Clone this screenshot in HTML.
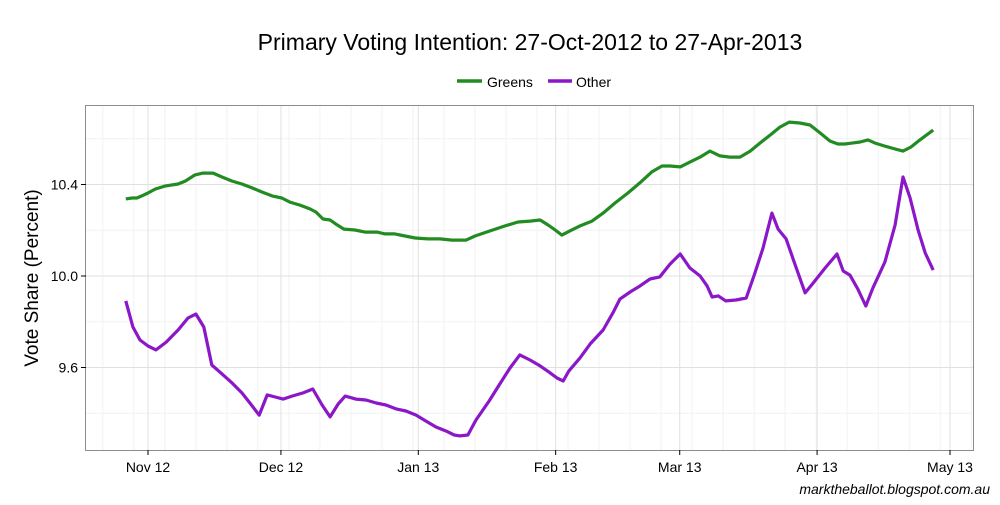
<!DOCTYPE html>
<html><head><meta charset="utf-8"><style>
body{margin:0;background:#fff;}
svg text{font-family:"Liberation Sans",Arial,sans-serif;}
</style></head><body>
<svg id="chart" width="1000" height="500" xmlns="http://www.w3.org/2000/svg">
<rect width="1000" height="500" fill="#fff"/>
<text x="530" y="50" font-size="23" text-anchor="middle" fill="#000">Primary Voting Intention: 27-Oct-2012 to 27-Apr-2013</text>
<g>
<g><line x1="457" y1="81" x2="482" y2="81" stroke="#228b22" stroke-width="3.5"/><text x="487" y="87" font-size="14">Greens</text></g>
<g><line x1="548" y1="81" x2="572" y2="81" stroke="#8a17c8" stroke-width="3.5"/><text x="576" y="87" font-size="14">Other</text></g>
</g>
<g id="grid"></g>
<g id="series"></g>
<rect x="85.5" y="105.5" width="888" height="345" fill="none" stroke="#8c8c8c" stroke-width="1"/>
<g id="axes"></g>
<text transform="translate(38,278) rotate(-90)" font-size="19" text-anchor="middle">Vote Share (Percent)</text>
<text x="990" y="494" font-size="14" font-style="italic" text-anchor="end">marktheballot.blogspot.com.au</text>
</svg>
<script>
// days offset from 1-Nov-2012
const greensDays=[-5,-3.6,-2.5,-1.4,0,1.6,3.8,6.8,8.4,10.6,12.4,14.7,16.7,19.0,21.2,23.5,25.7,28.0,30.2,32.0,34.3,36.6,37.9,39.5,41.1,42.4,44.2,46.7,49.0,51.7,53.5,55.7,58.0,60.3,63.2,65.9,68.6,71.8,73.8,77.2,80.6,83.5,86.2,88.5,90.3,91.9,93.4,95.2,97.5,100.2,102.7,105.4,108.3,111.0,113.7,116.0,117.8,120.1,122.3,124.6,126.8,129.1,131.3,133.6,135.9,138.1,140.4,142.6,144.7,147.1,149.4,151.7,153.9,155.7,157.3,158.9,160.7,162.5,164.1,166.3,168.6,170.4,172.2,174.2,177.2];
const greensValues=[10.337,10.341,10.341,10.350,10.363,10.380,10.393,10.402,10.415,10.442,10.450,10.450,10.433,10.415,10.402,10.385,10.367,10.350,10.341,10.323,10.310,10.293,10.280,10.249,10.245,10.227,10.205,10.201,10.192,10.192,10.184,10.184,10.175,10.166,10.162,10.162,10.157,10.157,10.175,10.197,10.219,10.236,10.240,10.245,10.223,10.201,10.179,10.197,10.219,10.240,10.275,10.319,10.363,10.407,10.455,10.481,10.481,10.477,10.498,10.520,10.546,10.525,10.520,10.520,10.546,10.581,10.616,10.651,10.673,10.669,10.660,10.625,10.590,10.577,10.577,10.581,10.586,10.595,10.581,10.568,10.555,10.546,10.564,10.595,10.638];
const otherDays=[-5.0,-3.4,-1.8,0,1.8,4.1,6.8,9.0,10.8,12.6,14.4,16.7,19.0,21.2,23.0,25.1,26.9,28.7,30.5,32.5,35.0,37.2,39.3,41.1,42.9,44.5,46.9,49.2,51.5,53.7,56.0,58.2,60.5,62.7,65.0,67.3,69.1,70.4,72.2,74.0,77.0,79.4,81.7,83.9,86.2,88.5,90.5,92.3,93.7,95.0,97.5,99.8,102.7,104.9,106.5,108.8,111.0,113.3,115.5,117.8,120.1,122.3,124.6,126.2,127.3,128.7,130.4,132.7,135.0,136.8,138.8,140.8,142.2,144.0,146.0,148.3,150.1,152.8,155.5,156.9,158.4,160.2,162.0,163.6,166.3,168.6,170.4,172.0,173.8,175.4,177.2];
const otherValues=[9.891,9.777,9.720,9.694,9.677,9.711,9.764,9.816,9.834,9.777,9.611,9.572,9.532,9.489,9.445,9.392,9.480,9.471,9.462,9.475,9.489,9.506,9.436,9.384,9.440,9.475,9.462,9.458,9.445,9.436,9.419,9.410,9.392,9.366,9.340,9.322,9.305,9.301,9.305,9.370,9.454,9.528,9.598,9.655,9.633,9.607,9.580,9.554,9.541,9.585,9.642,9.703,9.764,9.838,9.899,9.930,9.956,9.987,9.996,10.052,10.096,10.035,10.000,9.956,9.908,9.913,9.891,9.895,9.904,10.004,10.122,10.275,10.205,10.162,10.052,9.926,9.969,10.035,10.096,10.022,10.004,9.943,9.869,9.948,10.061,10.223,10.433,10.341,10.201,10.101,10.026];
const monthTickDays=[0,30,61,92,120,151,181];
const monthTickLabels=["Nov 12","Dec 12","Jan 13","Feb 13","Mar 13","Apr 13","May 13"];
const yTickValues=[9.6,10.0,10.4];
const yTickLabels=["9.6","10.0","10.4"];
const yMinorValues=[9.4,9.8,10.2,10.6];

const X0=86,X1=973,Y0=106,Y1=450;
function xs(d){return 148+d*4.431;}
function ys(v){return 276-(v-10)*228.75;}
const NS="http://www.w3.org/2000/svg";
function mk(tag,attrs,parent){const e=document.createElementNS(NS,tag);for(const k in attrs)e.setAttribute(k,attrs[k]);parent.appendChild(e);return e;}
const grid=document.getElementById('grid'),series=document.getElementById('series'),axes=document.getElementById('axes');
for(let d=-10.2;xs(d)<X1;d+=7){const x=xs(d);if(x<X0)continue;
 const l=mk('line',{x1:x,x2:x,y1:Y0,y2:Y1,stroke:'#f2f2f2','stroke-width':1},grid);
 
 }
yMinorValues.forEach(v=>{const l=mk('line',{x1:X0,x2:X1,y1:ys(v),y2:ys(v),stroke:'#f2f2f2','stroke-width':1},grid);
 
 });
monthTickDays.forEach((d,i)=>{const x=xs(d);
 const l=mk('line',{x1:x,x2:x,y1:Y0,y2:Y1,stroke:'#e0e0e0','stroke-width':1},grid);
 
 
 const t=mk('line',{x1:x,x2:x,y1:Y1,y2:Y1+5,stroke:'#000','stroke-width':1},axes);
 
 
 const tx=mk('text',{x:x,y:Y1+22,'font-size':14,'text-anchor':'middle',fill:'#000'},axes);
 tx.textContent=monthTickLabels[i];
 
 });
yTickValues.forEach((v,i)=>{const y=ys(v);
 const l=mk('line',{x1:X0,x2:X1,y1:y,y2:y,stroke:'#e0e0e0','stroke-width':1},grid);
 
 
 const t=mk('line',{x1:X0-5,x2:X0,y1:y,y2:y,stroke:'#000','stroke-width':1},axes);
 
 
 const tx=mk('text',{x:X0-8,y:y+5,'font-size':14,'text-anchor':'end',fill:'#000'},axes);
 tx.textContent=yTickLabels[i];
 
 });
function line(days,vals,color,name){
 const pts=days.map((d,i)=>xs(d).toFixed(1)+','+ys(vals[i]).toFixed(1)).join(' ');
 const p=mk('polyline',{points:pts,fill:'none',stroke:color,'stroke-width':3.2,'stroke-linejoin':'round'},series);
 
 }
line(greensDays,greensValues,'#228b22','greens-line');
line(otherDays,otherValues,'#8a17c8','other-line');
</script>
</body></html>
